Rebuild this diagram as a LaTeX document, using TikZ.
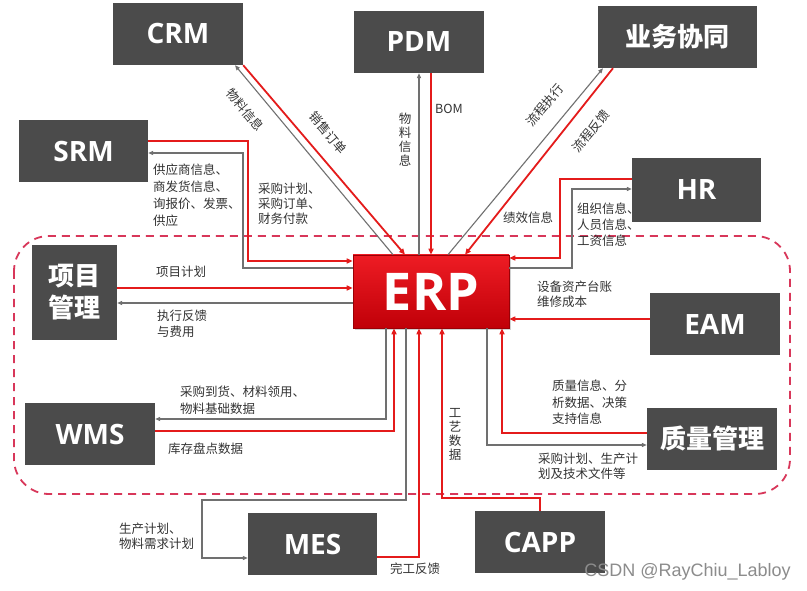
\documentclass[tikz,border=0pt]{standalone}
\usepackage{fontspec}
\setmainfont{Open Sans}
\newfontfamily\cjk{Noto Sans CJK SC}
\newfontfamily\wmfont{Liberation Sans}
\usetikzlibrary{arrows.meta,shadows}
\definecolor{boxgray}{HTML}{4B4B4B}
\definecolor{linered}{HTML}{E41B1B}
\definecolor{linegray}{HTML}{707070}
\definecolor{dashred}{HTML}{D8375A}
\definecolor{txt}{HTML}{333333}
\definecolor{erptop}{HTML}{EE1C24}
\definecolor{erpbot}{HTML}{C00008}
\begin{document}
\begin{tikzpicture}[x=1pt,y=-1pt,
  sysbox/.style={fill=boxgray, text=white, font=\bfseries\fontsize{28}{30}\selectfont, inner sep=0pt, minimum width=130pt, minimum height=62pt},
  cnbox/.style={sysbox, font=\cjk\bfseries\fontsize{26}{32}\selectfont},
  erpbox/.style={top color=erptop, bottom color=erpbot, draw=erpbot!80!black, line width=0.6pt, text=white, font=\bfseries\fontsize{52}{52}\selectfont, inner sep=0pt, minimum width=156pt, minimum height=73pt, drop shadow={shadow xshift=2pt, shadow yshift=-2pt, fill=black!35}},
  rl/.style={draw=linered, line width=1.8pt, -{Triangle[length=6pt,width=5pt]}},
  gl/.style={draw=linegray, line width=1.1pt, -{Triangle[length=5pt,width=4pt]}},
  lbl/.style={font=\cjk\fontsize{12.5}{16}\selectfont, text=txt, inner sep=0pt, align=left, anchor=north west},
  lbs/.style={font=\cjk\fontsize{12.5}{16}\selectfont, text=txt, inner sep=0pt},
  vlbl/.style={font=\cjk\fontsize{12.5}{14}\selectfont, text=txt, inner sep=0pt, align=center},
  zone/.style={draw=dashred, line width=1.8pt, dash pattern=on 8pt off 6pt, rounded corners=35pt},
]
\useasboundingbox (0,0) rectangle (807,591);
\fill[white] (0,0) rectangle (807,591);

% dashed zone
\draw[zone] (14,236) rectangle (790,494);

% labels
\node[lbl, font=\cjk\fontsize{12.5}{17}\selectfont] (t1) at (153,164) {供应商信息、\\商发货信息、\\询报价、发票、\\供应};
\node[lbl, font=\cjk\fontsize{12.5}{15}\selectfont] (t2) at (258,183) {采购计划、\\采购订单、\\财务付款};
\node[lbs, rotate=-50] (t3) at (245,110) {物料信息};
\node[lbs, rotate=-50] (t4) at (328,133) {销售订单};
\node[vlbl] (t5) at (405,140) {物\\料\\信\\息};
\node[lbs, anchor=west] (t6) at (435,109) {BOM};
\node[lbs, rotate=50] (t7) at (545,105) {流程执行};
\node[lbs, rotate=50] (t8) at (591,131) {流程反馈};
\node[lbs, anchor=west] (t9) at (503,218) {绩效信息};
\node[lbl] (t10) at (577,203) {组织信息、\\人员信息、\\工资信息};
\node[lbs, anchor=west] (t11) at (156,272) {项目计划};
\node[lbl] (t12) at (157,310) {执行反馈\\与费用};
\node[lbl, font=\cjk\fontsize{12.5}{15}\selectfont] (t13) at (537,281) {设备资产台账\\维修成本};
\node[lbl, font=\cjk\fontsize{12.5}{16.5}\selectfont] (t14) at (552,380) {质量信息、分\\析数据、决策\\支持信息};
\node[lbl, font=\cjk\fontsize{12.5}{14.5}\selectfont] (t15) at (538,453) {采购计划、生产计\\划及技术文件等};
\node[lbl, font=\cjk\fontsize{12.5}{17}\selectfont] (t16) at (180,386) {采购到货、材料领用、\\物料基础数据};
\node[lbs, anchor=west] (t17) at (168,449) {库存盘点数据};
\node[lbl, font=\cjk\fontsize{12.5}{14.5}\selectfont] (t18) at (119,523) {生产计划、\\物料需求计划};
\node[lbs, anchor=west] (t19) at (390,569) {完工反馈};
\node[vlbl] (t20) at (455,434) {工\\艺\\数\\据};

% boxes
\node[sysbox] (crm) at (178,34) {CRM};
\node[sysbox] (pdm) at (419,42) {PDM};
\node[cnbox, minimum width=159pt] (yw) at (677.5,37) {业务协同};
\node[sysbox, minimum width=129pt] (srm) at (83.5,151) {SRM};
\node[sysbox, minimum width=129pt, minimum height=64pt] (hr) at (696.5,190) {HR};
\node[cnbox, minimum width=85pt, minimum height=95pt, align=center] (xm) at (74.5,292.5) {项目\\管理};
\node[erpbox] (erp) at (431,291.5) {ERP};
\node[sysbox] (eam) at (715,324) {EAM};
\node[cnbox] (zl) at (712,439) {质量管理};
\node[sysbox] (wms) at (90,434) {WMS};
\node[sysbox, minimum width=129pt] (mes) at (312.5,544) {MES};
\node[sysbox] (capp) at (540,542) {CAPP};

% connectors
% CRM
\draw[gl] (393,0 |- erp.north) -- (235,0 |- crm.south);
\draw[rl] (crm.south east) -- (405,0 |- erp.north);
% PDM
\draw[gl] (erp.north -| pdm.south) -- (pdm.south);
\draw[rl] (431,0 |- pdm.south) -- (431,0 |- erp.north);
% business collaboration
\draw[gl] (448,0 |- erp.north) -- (603,0 |- yw.south);
\draw[rl] (613,0 |- yw.south) -- (465,0 |- erp.north);
% SRM
\draw[rl] (srm.east |- 0,141) -| (248,261) -- (erp.west |- 0,261);
\draw[gl] (erp.west |- 0,268) -| (243,153) -- (srm.east |- 0,153);
% HR
\draw[rl] (hr.west |- 0,179) -| (560,258) -- (erp.east |- 0,258);
\draw[gl] (erp.east |- 0,268) -| (572,189) -- (hr.west |- 0,189);
% project management
\draw[rl] (xm.east |- 0,288) -- (erp.west |- 0,288);
\draw[gl] (erp.west |- 0,303) -- (xm.east |- 0,303);
% EAM
\draw[rl] (eam.west |- 0,319) -- (erp.east |- 0,319);
% quality
\draw[rl] (zl.west |- 0,433) -| (502,0 |- erp.south);
\draw[gl] (487,0 |- erp.south) |- (zl.west |- 0,445);
% WMS
\draw[gl] (386,0 |- erp.south) |- (wms.east |- 0,419);
\draw[rl] (wms.east |- 0,431) -| (394,0 |- erp.south);
% MES
\draw[gl] (406,0 |- erp.south) -- (406,500) -| (202,558) -- (mes.west |- 0,558);
\draw[rl] (mes.east |- 0,557) -| (419,0 |- erp.south);
% CAPP
\draw[rl] (capp.north) -- (540,498) -| (442,0 |- erp.south);

% watermark
\node[font=\wmfont\fontsize{18}{18}\selectfont, text=black!45, anchor=east, inner sep=0pt] (wm) at (791,572) {CSDN @RayChiu\_Labloy};
\end{tikzpicture}
\end{document}
